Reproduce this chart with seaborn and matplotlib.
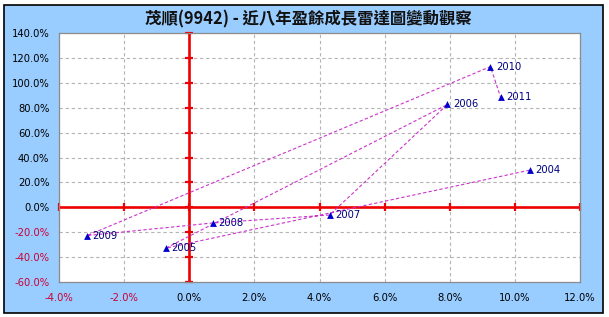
import matplotlib
matplotlib.use("Agg")
import matplotlib.pyplot as plt
import matplotlib.patches as mpatches
import seaborn as sns
import pandas as pd
import numpy as np

# ---- data ----
years = ["2004", "2005", "2006", "2007", "2008", "2009", "2010", "2011"]
revenue_growth = [10.45, -0.72, 7.93, 4.31, 0.72, -3.14, 9.25, 9.56]   # x, %
eps_growth = [29.8, -32.8, 82.6, -6.2, -12.6, -22.7, 113.0, 88.5]      # y, %
x_ticks = [-4, -2, 0, 2, 4, 6, 8, 10, 12]
y_ticks = [-60, -40, -20, 0, 20, 40, 60, 80, 100, 120, 140]
title = "茂順(9942) - 近八年盈餘成長雷達圖變動觀察"

df = pd.DataFrame({"year": years, "x": revenue_growth, "y": eps_growth})

sns.set_theme(style="white")
plt.rcParams["font.family"] = ["DejaVu Sans", "Noto Sans CJK TC"]

W, H = 609, 317
fig = plt.figure(figsize=(W / 100, H / 100), dpi=100)
fig.patch.set_facecolor("white")

# outer blue panel with black border
panel = mpatches.Rectangle((4 / W, 4 / H), 599 / W, 308 / H, transform=fig.transFigure,
                           facecolor="#99CCFF", edgecolor="black", linewidth=1.2, zorder=-10)
fig.patches.append(panel)

ax = fig.add_axes([59 / W, 1 - 282 / H, 521 / W, 249 / H])
ax.set_zorder(1)
ax.set_facecolor("white")
ax.set_xlim(x_ticks[0], x_ticks[-1])
ax.set_ylim(y_ticks[0], y_ticks[-1])
ax.set_xticks(x_ticks)
ax.set_yticks(y_ticks)
ax.set_xticklabels([f"{v:.1f}%" for v in x_ticks])
ax.set_yticklabels([f"{v:.1f}%" for v in y_ticks])
for lab, v in zip(ax.get_xticklabels(), x_ticks):
    lab.set_color("#CC0033" if v < 0 else "black")
for lab, v in zip(ax.get_yticklabels(), y_ticks):
    lab.set_color("#CC0033" if v < 0 else "black")
ax.tick_params(axis="both", length=0, labelsize=7.2)
ax.tick_params(axis="x", pad=8)
ax.tick_params(axis="y", pad=7)

for s in ax.spines.values():
    s.set_color("#8C8C8C")
    s.set_linewidth(0.9)

ax.grid(True, color="#B4B4B4", linestyle=(0, (3, 2.5)), linewidth=0.8)
ax.set_axisbelow(True)

# red axes through origin with tick marks
ax.axhline(0, color="#EE0000", lw=1.9, zorder=2)
ax.axvline(0, color="#EE0000", lw=1.9, zorder=2)
ax.plot(x_ticks, [0] * len(x_ticks), linestyle="none", marker="|", ms=5.5, mew=1.6,
        color="#EE0000", zorder=2, clip_on=False)
ax.plot([0] * len(y_ticks), y_ticks, linestyle="none", marker="_", ms=5.5, mew=1.6,
        color="#EE0000", zorder=2, clip_on=False)

# path
sns.lineplot(data=df, x="x", y="y", sort=False, estimator=None, ax=ax,
             color="#CC33CC", linewidth=0.8, linestyle=(0, (3, 2)), zorder=3)
sns.scatterplot(data=df, x="x", y="y", ax=ax, marker="^", s=24, color="#0000CC",
                edgecolor="#0000CC", linewidth=0, zorder=4)
for yr, xv, yv in zip(years, revenue_growth, eps_growth):
    ax.annotate(yr, (xv, yv), xytext=(4, 0), textcoords="offset points",
                ha="left", va="center", fontsize=7.2, color="#000080", zorder=5)

ax.set_xlabel("")
ax.set_ylabel("")

fig.text(308 / W, 1 - 19 / H, title, ha="center", va="center", fontsize=11.8,
         fontweight="bold", family=["Noto Sans CJK TC", "DejaVu Sans"], color="#111111")

fig.savefig("out.png", dpi=100, facecolor=fig.get_facecolor())
